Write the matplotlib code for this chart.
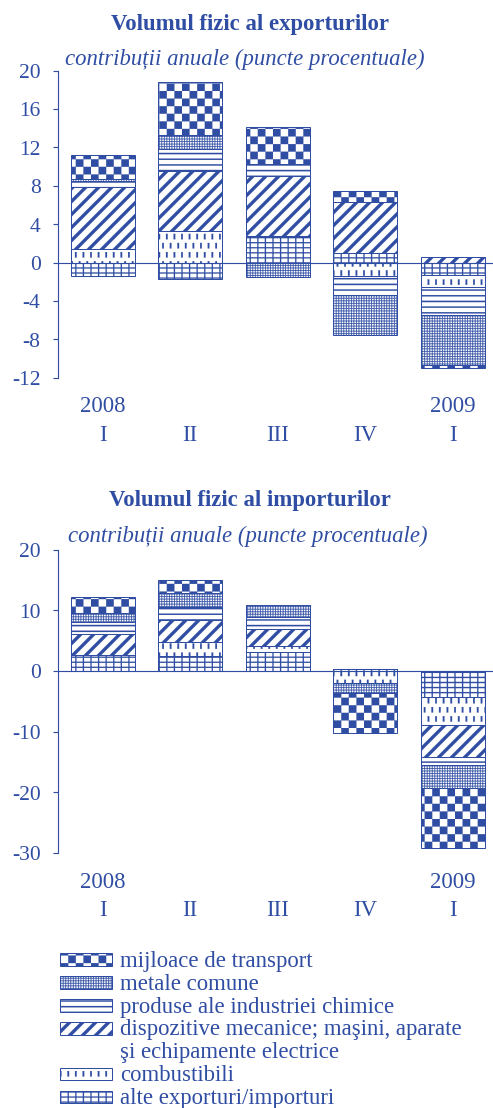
import numpy as np
import matplotlib
matplotlib.use('Agg')
import matplotlib.pyplot as plt
import matplotlib.hatch as mhatch
from matplotlib.path import Path
from matplotlib.patches import Rectangle

DPI = 91
W, H = 493, 1108
BLUE = '#2F4DA3'

# ---------------- data ----------------
quarters = ['I', 'II', 'III', 'IV', 'I']
years = ['2008', '', '', '', '2009']

legend_labels = ['mijloace de transport', 'metale comune', 'produse ale industriei chimice',
                 'dispozitive mecanice; maşini, aparate', 'şi echipamente electrice',
                 'combustibili', 'alte exporturi/importuri']

exp_transport = [2.5, 5.6, 3.9, 1.1, -0.34]
exp_metale = [0.2, 1.4, -1.5, -4.2, -5.2]
exp_chimice = [0.7, 2.3, 1.2, -2.0, -2.9]
exp_dispozitive = [6.45, 6.3, 6.25, 5.4, 0.6]
exp_combustibili = [1.4, 3.25, 0.0, -1.35, -1.3]
exp_alte = [-1.35, -1.7, 2.8, 0.97, -1.25]

imp_transport = [2.65, 2.2, 0.0, -6.6, -9.9]
imp_metale = [1.4, 2.2, 2.05, -1.65, -3.85]
imp_chimice = [2.0, 2.2, 1.95, 0.0, -1.4]
imp_dispozitive = [3.5, 3.6, 2.7, 0.0, -5.2]
imp_combustibili = [0.0, 2.35, 1.1, -2.0, -4.55]
imp_alte = [2.6, 2.5, 3.1, 0.4, -4.35]

exp_yticks = [-12, -8, -4, 0, 4, 8, 12, 16, 20]
imp_yticks = [-30, -20, -10, 0, 10, 20]

# ---------------- custom hatch patterns ----------------
T = int(DPI)  # hatch tile size in pixels


def P(v):
    return v / T


def rect(x0, y0, x1, y1):
    return [(x0, y0), (x1, y0), (x1, y1), (x0, y1), (x0, y0)]


def build_checker(n=12):
    s = 1.0 / n
    return [rect(i * s, j * s, (i + 1) * s, (j + 1) * s)
            for i in range(n) for j in range(n) if (i + j) % 2 == 0]


def build_hlines(n=16, t=1.4):
    p = 1.0 / n
    tt = P(t)
    return [rect(-0.01, k * p - tt / 2, 1.01, k * p + tt / 2) for k in range(n + 1)]


def build_grid(nv, nh, t):
    pv, ph = 1.0 / nv, 1.0 / nh
    tt = P(t)
    polys = [rect(-0.01, j * ph - tt / 2, 1.01, j * ph + tt / 2) for j in range(nh + 1)]
    for i in range(nv + 1):
        for j in range(nh):
            polys.append(rect(i * pv - tt / 2, j * ph + tt / 2, i * pv + tt / 2, (j + 1) * ph - tt / 2))
    return polys


def build_diag(n=7, t=4.6):
    h = P(t)
    polys = []
    for k in range(-n - 1, n + 2):
        c = k / n
        polys.append([(-0.2, -0.2 + c - h / 2), (1.2, 1.2 + c - h / 2),
                      (1.2, 1.2 + c + h / 2), (-0.2, -0.2 + c + h / 2),
                      (-0.2, -0.2 + c - h / 2)])
    return polys


def build_dashes(nc=12, nr=10, length=5.5, t=1.7):
    pc, pr = 1.0 / nc, 1.0 / nr
    L, tt = P(length), P(t)
    polys = []
    for j in range(nr + 1):
        off = (j % 2) * pc / 2
        for i in range(-1, nc + 2):
            x = i * pc + off
            y = j * pr
            polys.append(rect(x - tt / 2, y - L / 2, x + tt / 2, y + L / 2))
    return polys


class _PolyHatch(mhatch.HatchPatternBase):
    key = None
    builder = None

    def __init__(self, hatch, density):
        self.polys = type(self).builder() if (hatch and self.key in hatch) else []
        self.num_vertices = sum(len(p) for p in self.polys)

    def set_vertices_and_codes(self, vertices, codes):
        i = 0
        for p in self.polys:
            n = len(p)
            vertices[i:i + n] = p
            codes[i] = Path.MOVETO
            codes[i + 1:i + n - 1] = Path.LINETO
            codes[i + n - 1] = Path.CLOSEPOLY
            i += n


def make_hatch(key, fn):
    return type('H_' + str(ord(key)), (_PolyHatch,), {'key': key, 'builder': staticmethod(fn)})


mhatch._hatch_types = [
    make_hatch('*', build_checker),
    make_hatch('o', lambda: build_grid(36, 36, 0.7)),
    make_hatch('-', build_hlines),
    make_hatch('/', build_diag),
    make_hatch('.', build_dashes),
    make_hatch('+', lambda: build_grid(12, 18, 1.2)),
]

plt.rcParams['hatch.linewidth'] = 0.1
plt.rcParams['hatch.color'] = BLUE
plt.rcParams['font.family'] = ['Liberation Serif', 'DejaVu Serif']
plt.rcParams['axes.unicode_minus'] = False

HATCH = {'transport': '*', 'metale': 'o', 'chimice': '-', 'dispozitive': '/',
         'combustibili': '.', 'alte': '+'}

# ---------------- figure ----------------
fig = plt.figure(figsize=((W + 0.3) / DPI, (H + 0.3) / DPI), dpi=DPI)


def ax_rect(l, t, r, b):
    return [l / W, 1 - b / H, (r - l) / W, (b - t) / H]


x = np.arange(len(quarters))
XMIN, XMAX = -0.508, 4.459
BAR_W = 0.73


def draw_panel(rect_px, series, ylim, yticks):
    ax = fig.add_axes(ax_rect(*rect_px))
    ax.set_facecolor('none')
    pos = np.zeros(len(x))
    neg = np.zeros(len(x))
    for vals, hatch in series:
        v = np.asarray(vals, float)
        bottoms = np.where(v >= 0, pos, neg)
        ax.bar(x, v, BAR_W, bottom=bottoms, facecolor='white', edgecolor=BLUE,
               hatch=hatch, linewidth=0.8, zorder=2)
        pos += np.clip(v, 0, None)
        neg += np.clip(v, None, 0)
    ax.axhline(0, color=BLUE, lw=0.9, zorder=3)
    ax.set_xlim(XMIN, XMAX)
    ax.set_ylim(*ylim)
    ax.set_yticks(yticks)
    ax.set_yticklabels([str(t) for t in yticks])
    ax.set_xticks(x)
    ax.set_xticklabels([f'{y}\n{q}' for y, q in zip(years, quarters)], linespacing=1.45)
    for s in ['top', 'right', 'bottom']:
        ax.spines[s].set_visible(False)
    ax.spines['left'].set_color(BLUE)
    ax.spines['left'].set_linewidth(0.9)
    ax.tick_params(axis='y', colors=BLUE, length=4.3, width=0.9, pad=9.5, labelsize=17)
    ax.tick_params(axis='x', colors=BLUE, length=0, pad=14.5, labelsize=18)
    return ax


draw_panel((58, 71, 493, 378),
           [(exp_alte, HATCH['alte']), (exp_combustibili, HATCH['combustibili']),
            (exp_dispozitive, HATCH['dispozitive']), (exp_chimice, HATCH['chimice']),
            (exp_metale, HATCH['metale']), (exp_transport, HATCH['transport'])],
           (-12, 20), exp_yticks)

draw_panel((58, 550, 493, 853),
           [(imp_alte, HATCH['alte']), (imp_combustibili, HATCH['combustibili']),
            (imp_dispozitive, HATCH['dispozitive']), (imp_chimice, HATCH['chimice']),
            (imp_metale, HATCH['metale']), (imp_transport, HATCH['transport'])],
           (-30, 20), imp_yticks)

# overlay in pixel coordinates for titles and legend
ov = fig.add_axes([0, 0, 1, 1], zorder=-1)
ov.set_xlim(0, W)
ov.set_ylim(H, 0)
ov.axis('off')

ov.text(250, 30, 'Volumul fizic al exporturilor', ha='center', va='baseline',
        fontsize=18, fontweight='bold', color=BLUE)
ov.text(245, 65, 'contribuții anuale (puncte procentuale)', ha='center', va='baseline',
        fontsize=18, fontstyle='italic', color=BLUE)
ov.text(250, 505.7, 'Volumul fizic al importurilor', ha='center', va='baseline',
        fontsize=18, fontweight='bold', color=BLUE)
ov.text(248, 541.5, 'contribuții anuale (puncte procentuale)', ha='center', va='baseline',
        fontsize=18, fontstyle='italic', color=BLUE)

legend_hatches = [HATCH['transport'], HATCH['metale'], HATCH['chimice'],
                  HATCH['dispozitive'], None, HATCH['combustibili'], HATCH['alte']]
row_h = 22.9
top0 = 953.5
for k, (lab, hat) in enumerate(zip(legend_labels, legend_hatches)):
    yt = top0 + k * row_h
    if hat is not None:
        ov.add_patch(Rectangle((60, yt), 52, 12.5, facecolor='white', edgecolor=BLUE,
                               hatch=hat, linewidth=0.8))
    ov.text(120, yt + 13, lab, ha='left', va='baseline', fontsize=18, color=BLUE)

fig.savefig('out.png', dpi=DPI)
